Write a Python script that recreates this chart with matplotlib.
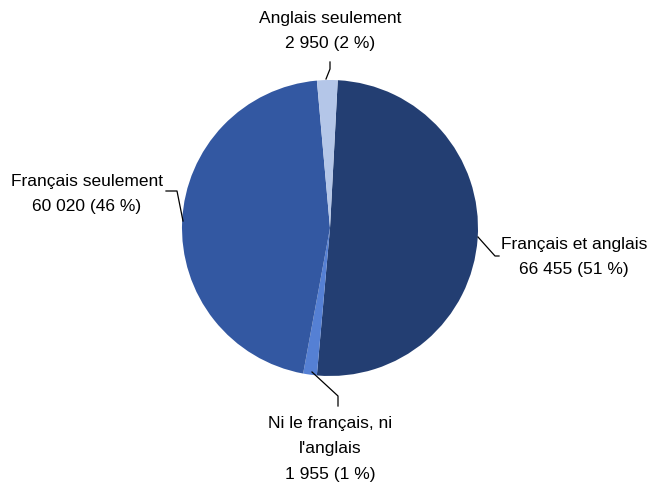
import matplotlib
matplotlib.use("Agg")
import matplotlib.pyplot as plt

categories = ["Français et anglais", "Ni le français, ni\nl'anglais", "Français seulement", "Anglais seulement"]
values = [66455, 1955, 60020, 2950]
percents = [51, 1, 46, 2]
colors = ["#233E72", "#5580D4", "#3358A2", "#B4C6E8"]

plt.rcParams['font.family'] = ['Liberation Sans', 'DejaVu Sans']

def fmt(v):
    s = f"{v:,}".replace(",", " ")
    return s

H = 485
fig = plt.figure(figsize=(6.5, 4.85), dpi=100)
ax = fig.add_axes([0, 0, 1, 1])

cx, cy, r = 330, H - 229, 148
ax.pie(values, colors=colors, startangle=87, counterclock=False,
       center=(cx, cy), radius=r, frame=True,
       wedgeprops=dict(linewidth=0))
ax.set_xlim(0, 650)
ax.set_ylim(0, H)
ax.set_aspect('equal')
ax.axis('off')

labels = [f"{c}\n{fmt(v)} ({p} %)" for c, v, p in zip(categories, values, percents)]
fs = 12.5
ls = 1.88
lk = dict(color="black", lw=0.9)

# Français et anglais
ax.plot([478, 495, 499], [H - 238, H - 257, H - 257], **lk)
ax.text(574, H - 257, labels[0], ha="center", va="center", fontsize=fs, linespacing=ls)
# Ni le français
ax.plot([312, 338, 338], [H - 373, H - 397, H - 407], **lk)
ax.text(330, H - 449, labels[1], ha="center", va="center", fontsize=fs, linespacing=ls)
# Français seulement
ax.plot([183, 177, 166], [H - 222, H - 192, H - 192], **lk)
ax.text(87, H - 194, labels[2], ha="center", va="center", fontsize=fs, linespacing=ls)
# Anglais seulement
ax.plot([326, 330, 330], [H - 80, H - 70, H - 63], **lk)
ax.text(330, H - 31, labels[3], ha="center", va="center", fontsize=fs, linespacing=ls)

fig.savefig("out.png", dpi=100)
